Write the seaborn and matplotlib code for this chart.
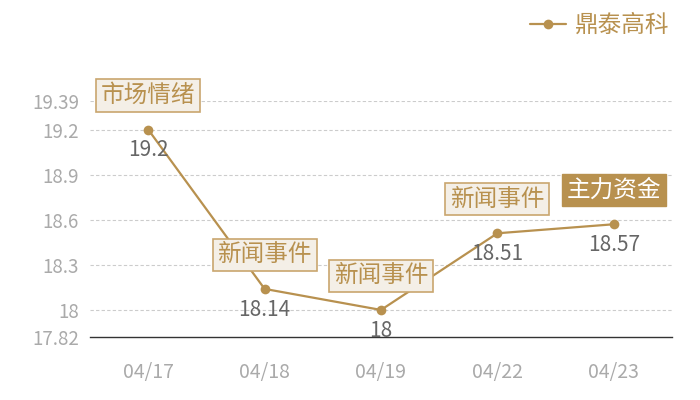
import matplotlib
matplotlib.use('Agg')
import matplotlib.pyplot as plt
import seaborn as sns
import pandas as pd

dates = ['04/17', '04/18', '04/19', '04/22', '04/23']
prices = [19.2, 18.14, 18.0, 18.51, 18.57]
value_labels = ['19.2', '18.14', '18', '18.51', '18.57']
tags = ['市场情绪', '新闻事件', '新闻事件', '新闻事件', '主力资金']
y_ticks = [17.82, 18, 18.3, 18.6, 18.9, 19.2, 19.39]
y_tick_labels = ['17.82', '18', '18.3', '18.6', '18.9', '19.2', '19.39']
series_name = '鼎泰高科'

gold = '#b8914f'

sns.set_style('white')
plt.rcParams['font.family'] = ['Noto Sans CJK SC', 'DejaVu Sans']

df = pd.DataFrame({'date': dates, 'price': prices})

fig = plt.figure(figsize=(7, 4), dpi=100)
ax = fig.add_axes([90 / 700, 1 - 337 / 400, 582 / 700, 236 / 400])

sns.lineplot(ax=ax, data=df, x='date', y='price', color=gold, lw=1.6,
             marker='o', markersize=7, markeredgewidth=0, label=series_name)

ax.set_xlim(-0.5, len(dates) - 0.5)
ax.set_ylim(y_ticks[0], y_ticks[-1])
ax.set_yticks(y_ticks)
ax.set_yticklabels(y_tick_labels)
ax.set_xlabel('')
ax.set_ylabel('')
ax.tick_params(axis='y', length=0, labelsize=13.5, colors='#aaaaaa', pad=8)
ax.tick_params(axis='x', length=0, labelsize=14, colors='#aaaaaa', pad=18)

for t in y_ticks[1:]:
    ax.axhline(t, color='#cccccc', lw=0.8, ls=(0, (3, 2)), zorder=0)

for s in ['top', 'right', 'left']:
    ax.spines[s].set_visible(False)
ax.spines['bottom'].set_color('#333333')
ax.spines['bottom'].set_linewidth(1)

for i, (v, lab, tag) in enumerate(zip(prices, value_labels, tags)):
    ax.annotate(lab, (i, v), xytext=(0, -15), textcoords='offset points',
                ha='center', va='center', fontsize=15, color='#666666')
    if tag == '主力资金':
        box = dict(boxstyle='square,pad=0.2', fc=gold, ec=gold, lw=1)
        tc = 'white'
    else:
        box = dict(boxstyle='square,pad=0.2', fc='#f4efe7', ec='#c9a66e', lw=1.2)
        tc = gold
    ax.annotate(tag, (i, v), xytext=(0, 24.5), textcoords='offset points',
                ha='center', va='center', fontsize=17, color=tc, bbox=box)

leg = ax.legend(loc='upper right', bbox_to_anchor=(684 / 700, 1), bbox_transform=fig.transFigure,
                frameon=False, fontsize=17, handlelength=1.5, handletextpad=0.4,
                borderaxespad=0.2)
for t in leg.get_texts():
    t.set_color(gold)

fig.savefig('out.png', dpi=100)
